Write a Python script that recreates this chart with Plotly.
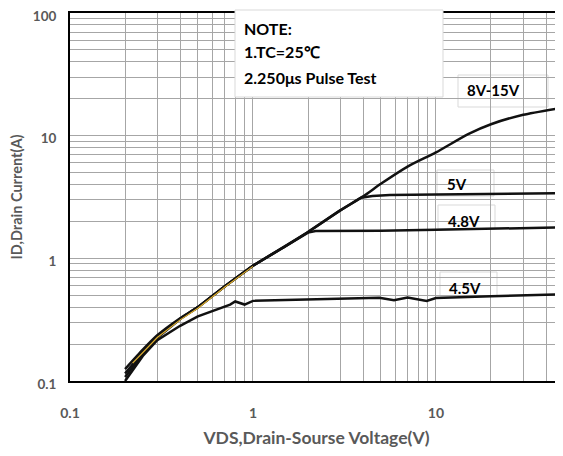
import plotly.graph_objects as go
import numpy as np

# ---- data ----
x_8v = [0.2, 0.25, 0.3, 0.4, 0.5, 0.7, 1, 1.5, 2, 3, 4, 5, 7, 10, 15, 20, 30, 50]
y_8v = [0.125, 0.18, 0.236, 0.325, 0.40, 0.59, 0.87, 1.25, 1.64, 2.46, 3.2, 4.05, 5.6, 7.3, 10.3, 12.4, 14.8, 17.0]

x_5v = [0.2, 0.25, 0.3, 0.4, 0.5, 0.7, 1, 1.5, 2, 3, 3.9, 4.5, 5.6, 10, 20, 50]
y_5v = [0.115, 0.172, 0.23, 0.322, 0.40, 0.59, 0.87, 1.25, 1.64, 2.46, 3.12, 3.22, 3.28, 3.32, 3.36, 3.4]

x_48v = [0.2, 0.25, 0.3, 0.4, 0.5, 0.7, 1, 1.5, 2, 2.2, 3, 5, 10, 20, 50]
y_48v = [0.108, 0.165, 0.225, 0.32, 0.40, 0.59, 0.87, 1.25, 1.62, 1.67, 1.67, 1.68, 1.71, 1.75, 1.79]

x_45v = [0.2, 0.25, 0.3, 0.35, 0.4, 0.5, 0.6, 0.7, 0.75, 0.8, 0.9, 1, 2, 3, 4, 4.9, 5.9, 7, 8.9, 10, 20, 50]
y_45v = [0.1, 0.16, 0.215, 0.25, 0.282, 0.336, 0.372, 0.40, 0.42, 0.445, 0.42, 0.45, 0.46, 0.465, 0.47, 0.478, 0.455, 0.48, 0.45, 0.475, 0.49, 0.51]

x_hi = [0.22, 0.25, 0.3, 0.4, 0.5, 0.7, 1]
y_hi = [0.14, 0.172, 0.226, 0.315, 0.392, 0.58, 0.86]

curve_labels = ["8V-15V", "5V", "4.8V", "4.5V"]
note_lines = ["NOTE:", "1.TC=25\u2103", "2.250\u03bcs Pulse Test"]

x_ticks = [0.1, 1, 10]
x_tick_text = ["0.1", "1", "10"]
y_ticks = [0.1, 1, 10, 100]
y_tick_text = ["0.1", "1", "10", "100"]

x_minor = [m * 10.0 ** e for e in (-1, 0, 1) for m in range(2, 10) if m * 10.0 ** e <= 50]
y_minor = [m * 10.0 ** e for e in (-1, 0, 1) for m in range(2, 10)]

FONT = "Lato"
GRAY = "#595959"
GRID = "#a6a6a6"

fig = go.Figure()
for xs, ys, shp in [(x_45v, y_45v, "linear"), (x_48v, y_48v, "linear"),
                    (x_5v, y_5v, "linear"), (x_8v, y_8v, "spline")]:
    fig.add_trace(go.Scatter(x=xs, y=ys, mode="lines",
                             line=dict(color="#111111", width=2.5, shape=shp, smoothing=0.6),
                             showlegend=False, hoverinfo="skip"))
fig.add_trace(go.Scatter(x=x_hi, y=y_hi, mode="lines",
                         line=dict(color="#e0b030", width=1.2),
                         showlegend=False, hoverinfo="skip"))

# page has an 8px body margin; compensate so plot area lands at ref pixels
OFF = 8
W, H = 563 - OFF, 456 - OFF
L, R, T = 70 - OFF, 0, 13 - OFF
pw, ph = 493, 368
B = H - T - ph

def px(xp):
    return (xp - 70) / pw

def py(yp):
    return (381 - yp) / ph

shapes = []
label_boxes = [(458, 548, 75, 107), (437, 494, 170, 196), (438, 495, 205, 229), (440, 497, 272, 296)]
for (x0, x1, y0, y1) in label_boxes:
    shapes.append(dict(type="rect", xref="paper", yref="paper",
                       x0=px(x0), x1=px(x1), y0=py(y1), y1=py(y0),
                       fillcolor="white", line=dict(color="#d9d9d9", width=1), layer="between"))
shapes.append(dict(type="rect", xref="paper", yref="paper",
                   x0=px(235), x1=px(443), y0=py(97), y1=py(10),
                   fillcolor="white", line=dict(color="#d9d9d9", width=1), layer="above"))

annotations = []
label_pos = [(465, 90), (445, 184), (446, 221), (447, 288)]
for txt, (ax, ay) in zip(curve_labels, label_pos):
    annotations.append(dict(text=txt, xref="paper", yref="paper", x=px(ax), y=py(ay),
                            xanchor="left", yanchor="middle", showarrow=False,
                            font=dict(family=FONT, size=15, color="black", weight="bold")))
for txt, ay in zip(note_lines, [28, 52, 77]):
    annotations.append(dict(text=txt, xref="paper", yref="paper", x=px(242), y=py(ay),
                            xanchor="left", yanchor="middle", showarrow=False,
                            font=dict(family=FONT, size=16, color="black", weight="bold")))

fig.update_layout(
    width=W, height=H,
    margin=dict(l=L, r=R, t=T, b=B),
    paper_bgcolor="white", plot_bgcolor="white",
    shapes=shapes, annotations=annotations,
    xaxis=dict(type="log", range=[-1, np.log10(49.5)],
               tickvals=x_ticks, ticktext=x_tick_text, automargin=False,
               showgrid=True, gridcolor=GRID, gridwidth=1,
               minor=dict(tickvals=x_minor, showgrid=True, gridcolor=GRID, gridwidth=1),
               showline=True, linecolor="black", linewidth=2, mirror=True,
               ticks="", ticklabelstandoff=18, ticklabeloverflow="allow",
               tickfont=dict(family=FONT, size=14, color=GRAY, weight="bold"),
               title=dict(text="VDS,Drain-Sourse Voltage(V)", standoff=12,
                          font=dict(family=FONT, size=17.5, color=GRAY, weight="bold")),
               zeroline=False),
    yaxis=dict(type="log", range=[-1, 2],
               tickvals=y_ticks, ticktext=y_tick_text, automargin=False,
               showgrid=True, gridcolor=GRID, gridwidth=1,
               minor=dict(tickvals=y_minor, showgrid=True, gridcolor=GRID, gridwidth=1),
               showline=True, linecolor="black", linewidth=2,
               ticks="", ticklabelstandoff=9, ticklabeloverflow="allow",
               ticklabelshift=3,
               tickfont=dict(family=FONT, size=13.5, color=GRAY, weight="bold"),
               title=dict(text="ID,Drain Current(A)", standoff=10,
                          font=dict(family=FONT, size=14.5, color=GRAY, weight="bold")),
               zeroline=False),
)

fig.write_html("out.html")
